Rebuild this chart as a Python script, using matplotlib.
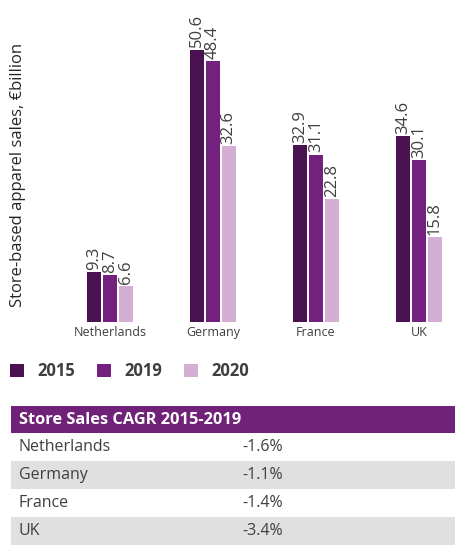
import numpy as np
import matplotlib
matplotlib.use("Agg")
import matplotlib.pyplot as plt
from matplotlib.patches import Rectangle

plt.rcParams['font.family'] = ['Open Sans', 'DejaVu Sans']

# chart data
countries = ["Netherlands", "Germany", "France", "UK"]
years = ["2015", "2019", "2020"]
sales_2015 = [9.3, 50.6, 32.9, 34.6]
sales_2019 = [8.7, 48.4, 31.1, 30.1]
sales_2020 = [6.6, 32.6, 22.8, 15.8]

# table data
table_title = "Store Sales CAGR 2015-2019"
cagr_labels = ["-1.6%", "-1.1%", "-1.4%", "-3.4%"]

colors = ["#4a1250", "#73207e", "#d4aed3"]
text_col = "#3f3f3f"

W, H = 467, 558
fig = plt.figure(figsize=(W / 100, H / 100), dpi=100)

# axes placed in pixel terms
left_px, right_px, base_px, top_px = 40, 467, 322, 0
ax = fig.add_axes([left_px / W, 1 - base_px / H, (right_px - left_px) / W, (base_px - top_px) / H])

x = np.arange(len(countries))
width = 0.136
offset = 0.152
series = [sales_2015, sales_2019, sales_2020]
bars = []
for i, vals in enumerate(series):
    b = ax.bar(x + (i - 1) * offset, vals, width=width, color=colors[i], label=years[i])
    bars.append(b)
    for rect, v in zip(b, vals):
        ax.annotate(f"{v:.1f}", (rect.get_x() + rect.get_width() / 2, rect.get_height()),
                    xytext=(0, 1.5), textcoords="offset points", rotation=90,
                    ha="center", va="bottom", fontsize=12, color=text_col)

scale = 103.0
xmin = -(110 - left_px) / scale
ax.set_xlim(xmin, xmin + (right_px - left_px) / scale)
ax.set_ylim(0, 59.8)
ax.set_xticks(x)
ax.set_xticklabels(countries, fontsize=9, color=text_col)
ax.tick_params(axis="x", length=0, pad=3)
ax.set_yticks([])
for s in ax.spines.values():
    s.set_visible(False)

fig.text(18 / W, 1 - 175 / H, "Store-based apparel sales, \u20acbillion", rotation=90,
         ha="center", va="center", fontsize=12, color="#262626")

# legend
leg = fig.legend(handles=bars, labels=years, loc="center left",
                 bbox_to_anchor=(10 / W, 1 - 371 / H), ncol=3, frameon=False,
                 borderpad=0, borderaxespad=0, handlelength=0.85, handleheight=0.85,
                 handletextpad=0.8, columnspacing=1.3,
                 prop={"weight": "bold", "size": 12})
for t in leg.get_texts():
    t.set_color(text_col)

# table
tx0, tx1 = 11, 455
fig.add_artist(Rectangle((tx0 / W, 1 - 433 / H), (tx1 - tx0) / W, 27 / H,
                         transform=fig.transFigure, color="#6f2277", lw=0))
fig.text(19 / W, 1 - 420 / H, table_title, color="white", fontsize=11.8,
         fontweight="bold", ha="left", va="center")
row_h = 28
for i, (c, v) in enumerate(zip(countries, cagr_labels)):
    y_top = 433 + i * row_h
    if i % 2 == 1:
        fig.add_artist(Rectangle((tx0 / W, 1 - (y_top + row_h) / H), (tx1 - tx0) / W, row_h / H,
                                 transform=fig.transFigure, color="#e0e0e0", lw=0))
    yc = 1 - (y_top + row_h / 2) / H
    fig.text(19 / W, yc, c, fontsize=11.5, color=text_col, ha="left", va="center")
    fig.text(242 / W, yc, v, fontsize=11.5, color=text_col, ha="left", va="center")

fig.savefig("out.png", dpi=100)
